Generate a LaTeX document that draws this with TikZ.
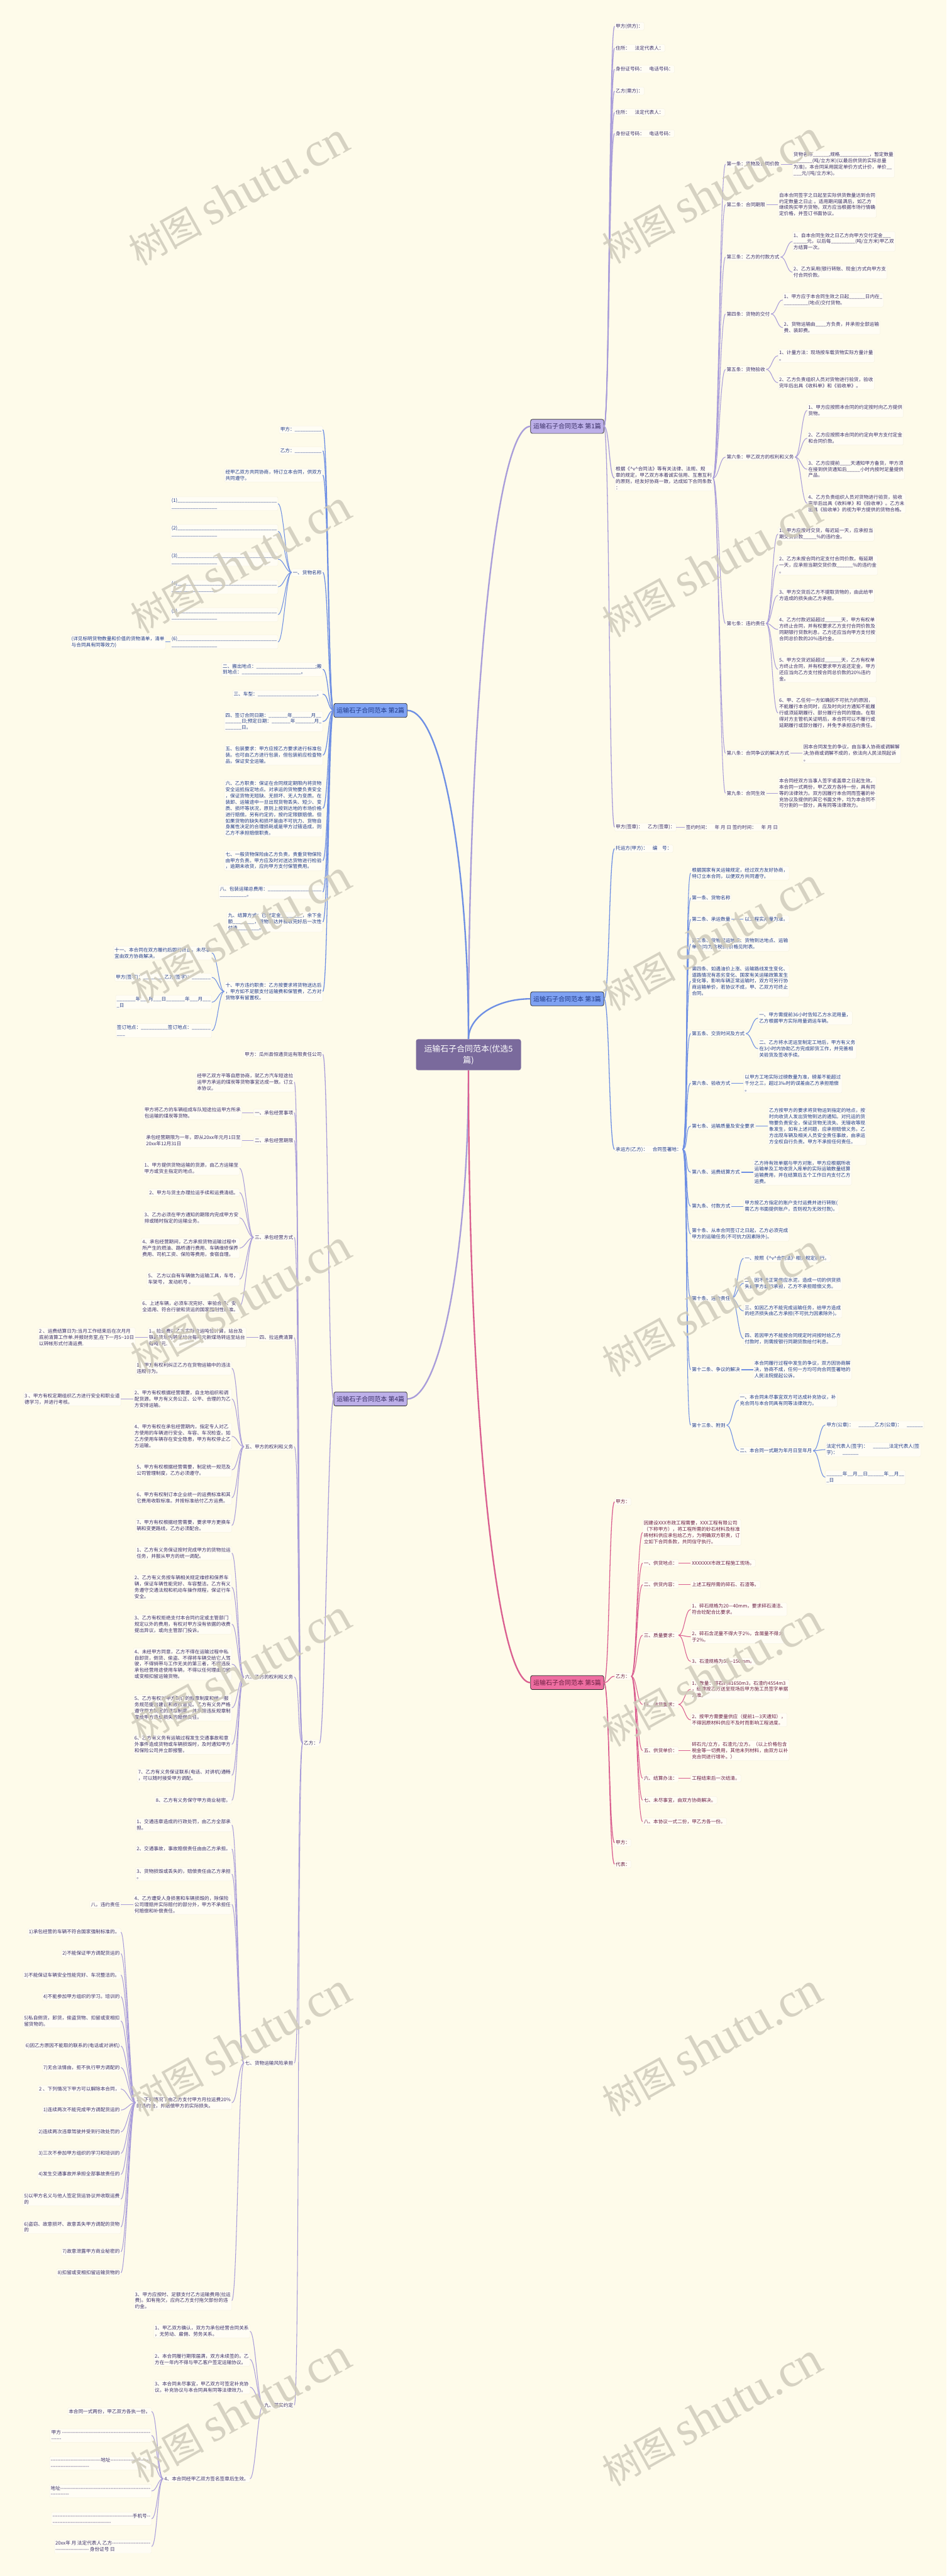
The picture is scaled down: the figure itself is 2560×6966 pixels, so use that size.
\documentclass[tikz,border=0pt]{standalone}
\usepackage{fontspec}
\setmainfont{Noto Sans CJK SC}
\newfontfamily\cjk{Noto Sans CJK SC}
\newfontfamily\wmlat{Liberation Serif}
\usetikzlibrary{calc}
\definecolor{bg}{HTML}{FEFBEA}
\definecolor{leafbg}{HTML}{FFFDF5}
\definecolor{leafbd}{HTML}{F1EDDA}
\definecolor{lnP}{HTML}{A99DDA}
\definecolor{lnB}{HTML}{6E8FE4}
\definecolor{lnK}{HTML}{DA5F90}
\definecolor{fP}{HTML}{BCAFE8}
\definecolor{fB}{HTML}{7EA1F2}
\definecolor{fK}{HTML}{EE6EA1}
\definecolor{fC}{HTML}{7A6A9C}
\definecolor{tP}{HTML}{3A2F66}
\definecolor{tB}{HTML}{203A86}
\definecolor{tK}{HTML}{6A1D40}
\definecolor{wmc}{HTML}{CFCBBB}
\tikzset{
 leaf/.style={font={\cjk\fontsize{13}{16.8}\selectfont}, align=left, inner xsep=3pt, inner ysep=4pt, fill=leafbg, draw=leafbd, line width=0.4pt, rounded corners=3pt},
 lr/.style={leaf, anchor=west},
 ll/.style={leaf, anchor=east},
 bnode/.style={draw=black!85, line width=1.2pt, rounded corners=5pt, font={\cjk\fontsize{17}{20}\selectfont}, minimum width=198pt, minimum height=38pt, inner sep=2pt},
 eP/.style={draw=lnP, line width=1.8pt},
 eB/.style={draw=lnB, line width=1.8pt},
 eK/.style={draw=lnK, line width=1.8pt},
 mainP/.style={draw=lnP, line width=4pt},
 mainB/.style={draw=lnB, line width=4pt},
 mainK/.style={draw=lnK, line width=4pt},
 wm/.style={rotate=29, text=wmc, opacity=0.85, font={\cjk\fontsize{100}{100}\selectfont}}
}
\newcommand\conR[3]{\draw[#1] (#2.east) .. controls ($(#2.east)+(15pt,0pt)$) and ($(#3.west)+(-15pt,0pt)$) .. (#3.west);}
\newcommand\conL[3]{\draw[#1] (#2.west) .. controls ($(#2.west)+(-15pt,0pt)$) and ($(#3.east)+(15pt,0pt)$) .. (#3.east);}
\begin{document}
\catcode`\_=12
\begin{tikzpicture}[x=1pt,y=-1pt]
\useasboundingbox (0,0) rectangle (2560,6966);
\fill[bg] (0,0) rectangle (2560,6966);

% center
\node[fill=fC, text=white, rounded corners=6pt, minimum width=284pt, minimum height=84pt, align=center, font={\cjk\fontsize{22}{30}\selectfont}] (c) at (1267,2852) {运输石子合同范本(优选5\\篇)};

% ===== Branch 1 =====
\begin{scope}[every node/.append style={text=tP}]
\node[bnode, fill=fP] (b1) at (1534,1153) {运输石子合同范本 第1篇};
\node[lr] (p1) at (1662,71) {甲方(供方)：};
\node[lr] (p2) at (1662,130) {住所：　法定代表人：};
\node[lr] (p3) at (1662,187) {身份证号码：　电话号码：};
\node[lr] (p4) at (1662,246) {乙方(需方)：};
\node[lr] (p5) at (1662,304) {住所：　法定代表人：};
\node[lr] (p6) at (1662,361) {身份证号码：　电话号码：};
\node[lr] (p7) at (1662,1293) {根据《\textasciicircum v\textasciicircum 合同法》等有关法律、法规、规\\章的规定，甲乙双方本着诚实信用、互惠互利\\的原则，经友好协商一致，达成如下合同条款\\：};
\node[lr] (p8) at (1662,2237) {甲方(签章)：　乙方(签章)：};
\node[lr] (p8a) at (1852,2237) {签约时间：　年 月 日 签约时间：　年 月 日};

\node[lr] (a1) at (1962,444) {第一条：货物及合同价款};
\node[lr] (a1c) at (2143,444) {货物名称______,规格___________，暂定数量\\_______(吨/立方米)(以最后供货的实际总量\\为准)，本合同采用固定单价方式计价，单价__\\___元/(吨/立方米)。};
\node[lr] (a2) at (1962,553) {第二条：合同期限};
\node[lr] (a2c) at (2104,553) {自本合同签字之日起至实际供货数量达到合同\\约定数量之日止 。适用期间届满后，如乙方\\继续购买甲方货物，双方应当根据市场行情确\\定价格，并签订书面协议。};
\node[lr] (a3) at (1962,695) {第三条：乙方的付款方式};
\node[lr] (a3c1) at (2143,653) {1、自本合同生效之日乙方向甲方交付定金___\\_____元，以后每_________(吨/立方米)甲乙双\\方结算一次。};
\node[lr] (a3c2) at (2143,736) {2、乙方采用(银行转账、现金)方式向甲方支\\付合同价款。};
\node[lr] (a4) at (1962,849) {第四条：货物的交付};
\node[lr] (a4c1) at (2117,811) {1、甲方应于本合同生效之日起______日内在_\\_________(地点)交付货物。};
\node[lr] (a4c2) at (2117,886) {2、货物运输由____方负责，并承担全部运输\\费、装卸费。};
\node[lr] (a5) at (1962,999) {第五条：货物验收};
\node[lr] (a5c1) at (2104,962) {1、计量方法：现场按车载货物实际方量计量\\。};
\node[lr] (a5c2) at (2104,1035) {2、乙方负责组织人员对货物进行验货，验收\\完毕后出具《收料单》和《验收单》。};
\node[lr] (a6) at (1962,1236) {第六条：甲乙双方的权利和义务};
\node[lr] (a6c1) at (2183,1110) {1、甲方应按照本合同的约定按时向乙方提供\\货物。};
\node[lr] (a6c2) at (2183,1185) {2、乙方应按照本合同的约定向甲方支付定金\\和合同价款。};
\node[lr] (a6c3) at (2183,1269) {3、乙方应提前____天通知甲方备货，甲方须\\在接到供货通知后_____小时内按时足量提供\\产品。};
\node[lr] (a6c4) at (2183,1361) {4、乙方负责组织人员对货物进行验货，验收\\完毕后出具《收料单》和《验收单》。乙方未\\出具《验收单》的视为甲方提供的货物合格。};
\node[lr] (a7) at (1962,1686) {第七条：违约责任};
\node[lr] (a7c1) at (2104,1444) {1、甲方应按时交货，每迟延一天，应承担当\\期交货价款_____\%的违约金。};
\node[lr] (a7c2) at (2104,1528) {2、乙方未按合同约定支付合同价款，每延期\\一天，应承担当期交货价款______\%的违约金\\。};
\node[lr] (a7c3) at (2104,1610) {3、甲方交货后乙方不提取货物的，由此给甲\\方造成的损失由乙方承担。};
\node[lr] (a7c4) at (2104,1702) {4、乙方付款迟延超过______天，甲方有权单\\方终止合同，并有权要求乙方支付合同价款及\\同期银行贷款利息，乙方还应当向甲方支付按\\合同总价款的20\%违约金。};
\node[lr] (a7c5) at (2104,1810) {5、甲方交货迟延超过______天，乙方有权单\\方终止合同，并有权要求甲方返还定金，甲方\\还应当向乙方支付按合同总价款的20\%违约\\金。};
\node[lr] (a7c6) at (2104,1928) {6、甲、乙任何一方如确因不可抗力的原因，\\不能履行本合同时，应及时向对方通知不能履\\行或须延期履行、部分履行合同的理由。在取\\得对方主管机关证明后，本合同可以不履行或\\延期履行或部分履行，并免予承担违约责任。};
\node[lr] (a8) at (1962,2037) {第八条：合同争议的解决方式};
\node[lr] (a8c) at (2170,2037) {因本合同发生的争议，由当事人协商或调解解\\决;协商或调解不成的，依法向人民法院起诉\\。};
\node[lr] (a9) at (1962,2145) {第九条：合同生效};
\node[lr] (a9c) at (2104,2145) {本合同经双方当事人签字或盖章之日起生效。\\本合同一式两份，甲乙双方各持一份，具有同\\等的法律效力。双方因履行本合同而签署的补\\充协议及提供的其它书面文件，均为本合同不\\可分割的一部分，具有同等法律效力。};
\end{scope}

% ===== Branch 3 =====
\begin{scope}[every node/.append style={text=tB}]
\node[bnode, fill=fB] (b3) at (1534,2701) {运输石子合同范本 第3篇};
\node[lr] (t1) at (1662,2295) {托运方(甲方)：　编　号：};
\node[lr] (t2) at (1662,3108) {承运方(乙方)：　合同签署地：};
\node[lr] (s0) at (1868,2361) {根据国家有关运输规定，经过双方友好协商，\\特订立本合同，以便双方共同遵守。};
\node[lr] (s1) at (1868,2428) {第一条、货物名称};
\node[lr] (s2) at (1868,2486) {第二条、承运数量};
\node[lr] (s2c) at (2011,2486) {以工程实用量为准。};
\node[lr] (s3) at (1868,2553) {第三条、货物起运地点、货物到达地点、运输\\单价(均为含税价)价格见附表。};
\node[lr] (s4) at (1868,2653) {第四条、如遇油价上涨、运输路线发生变化、\\道路情况有恶劣变化、国家有关运输政策发生\\变化等，影响车辆正常运输时，双方可另行协\\商运输单价，若协议不成，甲、乙双方可终止\\合同。};
\node[lr] (s5) at (1868,2795) {第五条、交货时间及方式};
\node[lr] (s5c1) at (2050,2753) {一、甲方需提前36小时告知乙方水泥用量，\\乙方根据甲方实际用量调运车辆。};
\node[lr] (s5c2) at (2050,2836) {二、乙方将水泥运至制定工地后，甲方有义务\\在3小时内协助乙方完成卸货工作，并完善相\\关验货及签收手续。};
\node[lr] (s6) at (1868,2929) {第六条、验收方式};
\node[lr] (s6c) at (2011,2929) {以甲方工地实际过磅数量为准，磅差不能超过\\千分之三，超过3‰时的误差由乙方承担赔偿\\。};
\node[lr] (s7) at (1868,3045) {第七条、运输质量及安全要求};
\node[lr] (s7c) at (2077,3045) {乙方按甲方的要求将货物运到指定的地点，按\\时向收货人发出货物到达的通知。对托运的货\\物要负责安全，保证货物无流失、无错收等现\\象发生，如有上述问题，应承担赔偿义务。乙\\方出现车辆及相关人员安全责任事故，由承运\\方全权自行负责。甲方不承担任何责任。};
\node[lr] (s8) at (1868,3170) {第八条、运费结算方式};
\node[lr] (s8c) at (2037,3170) {乙方持有效单据与甲方对账，甲方应根据所收\\运输单及工地收货入库单的实际运输数量结算\\运输费用，并在结算后五个工作日内支付乙方\\运费。};
\node[lr] (s9) at (1868,3262) {第九条、付款方式};
\node[lr] (s9c) at (2011,3262) {甲方按乙方指定的账户支付运费并进行转账(\\需乙方书面提供账户，否则视为无效付款)。};
\node[lr] (s10) at (1868,3337) {第十条、从本合同签订之日起，乙方必须完成\\甲方的运输任务(不可抗力因素除外)。};
\node[lr] (s11) at (1868,3511) {第十条、违约责任};
\node[lr] (s11c1) at (2011,3403) {一、按照《\textasciicircum v\textasciicircum 合同法》相关规定执行。};
\node[lr] (s11c2) at (2011,3470) {二、因不能正常供应水泥，造成一切的供货损\\失由甲方自行承担，乙方不承担赔偿义务。};
\node[lr] (s11c3) at (2011,3545) {三、如因乙方不能完成运输任务，给甲方造成\\的经济损失由乙方承担(不可抗力因素除外)。};
\node[lr] (s11c4) at (2011,3620) {四、若因甲方不能按合同规定时间按时给乙方\\付款时，则需按银行同期贷款给付利息。};
\node[lr] (s12) at (1868,3704) {第十二条、争议的解决};
\node[lr] (s12c) at (2037,3704) {本合同履行过程中发生的争议，双方因协商解\\决，协商不成，任何一方均可向合同签署地的\\人民法院提起公诉。};
\node[lr] (s13) at (1868,3854) {第十三条、附则};
\node[lr] (s13a) at (1998,3786) {一、本合同未尽事宜双方可达成补充协议，补\\充合同与本合同具有同等法律效力。};
\node[lr] (s13b) at (1998,3923) {二、本合同一式期为年月日至年月};
\node[lr] (s13b1) at (2232,3853) {甲方(公章)：　______乙方(公章)：　______};
\node[lr] (s13b2) at (2232,3920) {法定代表人(签字)：　______法定代表人(签\\字)：　______};
\node[lr] (s13b3) at (2232,3995) {______年__月__日______年__月__\\_日};
\end{scope}

% ===== Branch 5 =====
\begin{scope}[every node/.append style={text=tK}]
\node[bnode, fill=fK] (b5) at (1534,4550) {运输石子合同范本 第5篇};
\node[lr] (k1) at (1662,4061) {甲方：};
\node[lr] (k2) at (1662,4533) {乙方：};
\node[lr] (k3) at (1662,4983) {甲方：};
\node[lr] (k4) at (1662,5041) {代表：};
\node[lr] (q0) at (1738,4144) {因建设XXX市政工程需要，XXX工程有限公司\\（下称甲方），将工程所需的砂石材料及标准\\砖材料供应承包给乙方，为明确双方职责，订\\立如下合同条款，共同信守执行。};
\node[lr] (q1) at (1738,4227) {一、供货地点：};
\node[lr] (q1c) at (1868,4227) {XXXXXXX市政工程施工现场。};
\node[lr] (q2) at (1738,4285) {二、供货内容：};
\node[lr] (q2c) at (1868,4285) {上述工程所需的碎石、石渣等。};
\node[lr] (q3) at (1738,4422) {三、质量要求：};
\node[lr] (q3c1) at (1868,4352) {1、碎石规格为20—40mm，要求碎石清洁、\\符合砼配合比要求。};
\node[lr] (q3c2) at (1868,4426) {2、碎石含泥量不得大于2\%，含屑量不得大\\于2\%。};
\node[lr] (q3c3) at (1868,4493) {3、石渣规格为50—150mm。};
\node[lr] (q4) at (1738,4609) {四、供货要求：};
\node[lr] (q4c1) at (1868,4568) {1、数量：碎石约81650m3，石渣约4554m3\\，结算按乙方送至现场后甲方施工员签字单据\\为准。};
\node[lr] (q4c2) at (1868,4651) {2、按甲方需要量供应（提前1—3天通知），\\不得因原材料供应不及时而影响工程进度。};
\node[lr] (q5) at (1738,4734) {五、供货单价：};
\node[lr] (q5c) at (1868,4734) {碎石元/立方，石渣元/立方。（以上价格包含\\税金等一切费用，其他未列材料，由双方以补\\充合同进行增补。）};
\node[lr] (q6) at (1738,4809) {六、结算办法：};
\node[lr] (q6c) at (1868,4809) {工程结束后一次结清。};
\node[lr] (q7) at (1738,4868) {七、未尽事宜，由双方协商解决。};
\node[lr] (q8) at (1738,4926) {八、本协议一式二份，甲乙方各一份。};
\end{scope}

% ===== Branch 2 =====
\begin{scope}[every node/.append style={text=tB}]
\node[bnode, fill=fB] (b2) at (1002,1921) {运输石子合同范本 第2篇};
\node[ll] (m1) at (873,1162) {甲方：__________};
\node[ll] (m2) at (873,1219) {乙方：__________};
\node[ll] (m3) at (873,1285) {经甲乙双方共同协商，特订立本合同，供双方\\共同遵守。};
\node[ll] (m4) at (873,1548) {一、货物名称};
\node[ll] (n1) at (752,1362) {(1)_____________________________________\\_________________};
\node[ll] (n2) at (752,1437) {(2)_____________________________________\\_________________};
\node[ll] (n3) at (752,1512) {(3)_____________________________________\\_________________};
\node[ll] (n4) at (752,1587) {(4)_____________________________________\\_________________};
\node[ll] (n5) at (752,1662) {(5)_____________________________________\\_________________};
\node[ll] (n6) at (752,1736) {(6)_____________________________________\\_________________};
\node[ll] (n6d) at (448,1736) {(详见标明货物数量和价值的货物清单，清单\\与合同具有同等效力)};
\node[ll] (m5) at (873,1810) {二、搬出地点：______________________;搬\\到地点：______________________。};
\node[ll] (m6) at (873,1877) {三、车型：______________________。};
\node[ll] (m7) at (873,1951) {四、签订合同日期：_______年_______月__\\______日;预定日期：_______年_______月_\\______日。};
\node[ll] (m8) at (873,2042) {五、包装要求：甲方应按乙方要求进行标准包\\装。也可由乙方进行包装，但包装前应检查物\\品，保证安全运输。};
\node[ll] (m9) at (873,2186) {六、乙方职责：保证在合同规定期限内将货物\\安全运抵指定地点。对承运的货物要负责安全\\，保证货物无短缺、无损坏、无人为变质。在\\装卸、运输途中一旦出现货物丢失、短少、变\\质、损坏等状况，原则上按到达地的市场价格\\进行赔偿。另有约定的，按约定限额赔偿。但\\如果货物的缺失和损坏是由不可抗力、货物自\\身属性决定的合理损耗或是甲方过错造成，则\\乙方不承担赔偿职责。};
\node[ll] (m10) at (873,2327) {七、一般货物保险由乙方负责，贵重货物保险\\由甲方负责。甲方应及时对送达货物进行检验\\，逾期未收货，应向甲方支付保管费用。};
\node[ll] (m11) at (873,2412) {八、包装运输总费用：____________________\\__________。};
\node[ll] (m12) at (873,2493) {九、结算方式：已付定金________，余下金\\额________，货物到达并验收完好后一次性\\付清________。};
\node[ll] (m13) at (873,2681) {十、甲方违约职责：乙方按要求将货物送达后\\，甲方如不足额支付运输费和保管费，乙方对\\货物享有留置权。};
\node[ll] (m13a) at (573,2577) {十一、本合同在双方履约后即行终止。未尽事\\宜由双方协商解决。};
\node[ll] (m13b) at (573,2643) {甲方(签字)：________乙方(签字)：_______};
\node[ll] (m13c) at (573,2710) {_______年___月___日_______年___月___\\_日};
\node[ll] (m13d) at (573,2787) {签订地点：__________签订地点：_______\\___};
\end{scope}

% ===== Branch 4 =====
\begin{scope}[every node/.append style={text=tP}]
\node[bnode, fill=fP] (b4) at (1002,3783) {运输石子合同范本 第4篇};
\node[ll] (r1) at (873,2851) {甲方：瓜州县恒通货运有限责任公司};
\node[ll] (r2) at (864,4714) {乙方：};
\node[ll] (g0) at (796,2926) {经甲乙双方平等自愿协商，就乙方汽车短途拉\\运甲方承运的煤炭等货物事宜达成一致。订立\\本协议。};
\node[ll] (g1) at (796,3009) {一、承包经营事项};
\node[ll] (g1c) at (654,3009) {甲方将乙方的车辆组成车队短途拉运甲方所承\\包运输的煤炭等货物。};
\node[ll] (g2) at (796,3084) {二、承包经营期限};
\node[ll] (g2c) at (654,3084) {承包经营期限为一年，即从20xx年元月1日至\\20xx年12月31日};
\node[ll] (g3) at (796,3346) {三、承包经营方式};
\node[ll] (g3c1) at (648,3159) {1、甲方提供货物运输的货源，由乙方运输至\\甲方或货主指定的地点。};
\node[ll] (g3c2) at (648,3225) {2、甲方与货主办理拉运手续和运费清结。};
\node[ll] (g3c3) at (648,3293) {3、乙方必须在甲方通知的期限内完成甲方安\\排或随时指定的运输业务。};
\node[ll] (g3c4) at (648,3375) {4、承包经营期间，乙方承担货物运输过程中\\所产生的燃油、路桥通行费用、车辆维修保养\\费用、司机工资、保险等费用，食宿自理。};
\node[ll] (g3c5) at (648,3459) {5、 乙方以自有车辆做为运输工具，车号，\\车架号， 发动机号 。};
\node[ll] (g3c6) at (648,3533) {6、上述车辆，必须车况完好、审验合格、安\\全适用、符合行驶和货运的国家强制性标准。};
\node[ll] (g4) at (796,3617) {四、拉运费清算};
\node[ll] (g4c) at (666,3617) {1、拉运费以乙方实际拉运吨位计算，站台及\\铁路货场内转至站台每吨元新煤场转运至站台\\每吨7元.};
\node[ll] (g4cc) at (366,3617) {2 、运费结算日为:当月工作结束后在次月月\\底前清算工作单.并报财务室,在下一月5\textasciitilde 10日\\以转帐形式付清运费.};
\node[ll] (g5) at (796,3912) {五、甲方的权利和义务};
\node[ll] (g5c1) at (627,3700) {1、甲方有权利纠正乙方在货物运输中的违法\\违规行为。};
\node[ll] (g5c2) at (627,3783) {2、甲方有权根据经营需要，自主地组织和调\\配货源。甲方有义务公正、公平、合理的为乙\\方安排运输。};
\node[ll] (g5c2d) at (327,3783) {3 、甲方有权定期组织乙方进行安全和职业道\\德学习，并进行考核。};
\node[ll] (g5c4) at (627,3884) {4、甲方有权在承包经营期内，指定专人对乙\\方使用的车辆进行安全、车容、车况检查。如\\乙方使用车辆存在安全隐患，甲方有权停止乙\\方运输。};
\node[ll] (g5c5) at (627,3975) {5、甲方有权根据经营需要，制定统一规范及\\公司管理制度，乙方必须遵守。};
\node[ll] (g5c6) at (627,4050) {6、甲方有权制订本企业统一的运费标准和其\\它费用收取标准。并按标准给付乙方运费。};
\node[ll] (g5c7) at (627,4125) {7、甲方有权根据经营需要，要求甲方更换车\\辆和变更路线，乙方必须配合。};
\node[ll] (g6) at (796,4535) {六、乙方的权利和义务};
\node[ll] (g6c1) at (627,4200) {1、乙方有义务保证按时完成甲方的货物拉运\\任务，并服从甲方的统一调配。};
\node[ll] (g6c2) at (627,4292) {2、乙方有义务按车辆相关规定维修和保养车\\辆，保证车辆性能完好、车容整洁。乙方有义\\务遵守交通法规和机动车操作规程，保证行车\\安全。};
\node[ll] (g6c3) at (627,4392) {3、乙方有权拒绝支付本合同约定或主管部门\\规定以外的费用，有权对甲方没有依据的收费\\提出异议，或向主管部门投诉。};
\node[ll] (g6c4) at (627,4500) {4、未经甲方同意，乙方不得在运输过程中私\\自卸货，倒货、偷盗、不得将车辆交给它人驾\\驶，不得捎带与工作无关的第三者，不得违反\\承包经营用途使用车辆，不得以任何理由扣留\\或变相扣留运输货物。};
\node[ll] (g6c5) at (627,4618) {5、乙方有权对甲方制订的规章制度和统一服\\务规范提出建议和修改意见。乙方有义务严格\\遵守甲方制定的规章制度，并承担违反规章制\\度给甲方造成损失的赔偿责任。};
\node[ll] (g6c6) at (627,4717) {6、乙方有义务有运输过程发生交通事故和意\\外事件造成货物或车辆损毁时，及时通知甲方\\和保险公司并立即报警。};
\node[ll] (g6c7) at (627,4801) {7、乙方有义务保证联系(电话、对讲机)通畅\\，可以随时接受甲方调配。};
\node[ll] (g6c8) at (627,4868) {8、乙方有义务保守甲方商业秘密。};
\node[ll] (g7) at (796,5579) {七、货物运输风险承担};
\node[ll] (g7c1) at (627,4935) {1、交通违章造成的行政处罚，由乙方全部承\\担。};
\node[ll] (g7c2) at (627,5000) {2、交通事故，事故赔偿责任由由乙方承担。};
\node[ll] (g7c3) at (627,5068) {3、货物损毁或丢失的，赔偿责任由乙方承担\\。};
\node[ll] (g7c4) at (627,5150) {4、乙方遭受人身损害和车辆损毁的，除保险\\公司理赔并实际赔付的部分外，甲方不承担任\\何赔偿和补偿责任。};
\node[ll] (g7c4d) at (327,5150) {八，违约责任};
\node[ll] (g7c5) at (627,5686) {1、下列情况下由乙方支付甲方月拉运费20\%\\的违约金，并赔偿甲方的实际损失。};
\node[ll] (h1) at (327,5225) {1)承包经营的车辆不符合国家强制标准的。};
\node[ll] (h2) at (327,5283) {2)不能保证甲方调配货运的};
\node[ll] (h3) at (327,5341) {3)不能保证车辆安全性能完好、车况整洁的。};
\node[ll] (h4) at (327,5399) {4)不能参加甲方组织的学习。培训的};
\node[ll] (h5) at (327,5465) {5)私自倒货，卸货，偷盗货物、扣留或变相扣\\留货物的。};
\node[ll] (h6) at (327,5533) {6)因乙方原因不能取的联系的(电话或对讲机)};
\node[ll] (h7) at (327,5591) {7)无合法情由，拒不执行甲方调配的};
\node[ll] (h8) at (327,5649) {2 、下列情况下甲方可以解除本合同，};
\node[ll] (h9) at (327,5706) {1)连续两次不能完成甲方调配货运的};
\node[ll] (h10) at (327,5765) {2)连续两次违章驾驶并受到行政处罚的};
\node[ll] (h11) at (327,5823) {3)三次不参加甲方组织的学习和培训的};
\node[ll] (h12) at (327,5880) {4)发生交通事故并承担全部事故责任的};
\node[ll] (h13) at (327,5947) {5)以甲方名义与他人签定货运协议并收取运费\\的};
\node[ll] (h14) at (327,6022) {6)盗窃、故意损坏、故意丢失甲方调配的货物\\的};
\node[ll] (h15) at (327,6089) {7)故意泄露甲方商业秘密的};
\node[ll] (h16) at (327,6146) {8)扣留或变相扣留运输货物的};
\node[ll] (g7c6) at (627,6221) {3、甲方应按时、足额支付乙方运输费用(拉运\\费)。如有拖欠，应向乙方支付拖欠部份的违\\约金。};
\node[ll] (g9) at (796,6504) {九、其实约定};
\node[ll] (g9c1) at (676,6304) {1、甲乙双方确认，双方为承包经营合同关系\\，无劳动、雇佣、劳务关系。};
\node[ll] (g9c2) at (676,6380) {2、本合同履行期限届满，双方未续签的。乙\\方在一年内不得与甲乙客户签定运输协议。};
\node[ll] (g9c3) at (676,6455) {3、本合同未尽事宜，甲乙双方可签定补充协\\议。补充协议与本合同具有同等法律效力。};
\node[ll] (g9c4) at (676,6703) {4、本合同经甲乙双方签名签章后生效。};
\node[ll] (w1) at (410,6521) {本合同一式两份，甲乙双方各执一份。};
\node[ll] (w2) at (410,6586) {甲方 -----------------------------------------------------\\------};
\node[ll] (w3) at (410,6661) {------------------------------地址------------------------\\-----------------------};
\node[ll] (w4) at (410,6736) {地址------------------------------------------------------\\-----------};
\node[ll] (w5) at (410,6811) {------------------------------------------------手机号--\\-----------------------------------};
\node[ll] (w6) at (410,6886) {20xx年 月 法定代表人 乙方-----------------------\\-------------------- 身份证号 日};
\end{scope}

% ===== main connectors =====
\draw[mainP] (c.north) .. controls (1267,1895) and (1342,1153) .. (b1.west);
\draw[mainB] (c.north) .. controls (1267,2319) and (1192,1921) .. (b2.east);
\draw[mainB] (c.north) .. controls (1267,2750) and (1342,2701) .. (b3.west);
\draw[mainP] (c.south) .. controls (1267,3385) and (1192,3783) .. (b4.east);
\draw[mainK] (c.south) .. controls (1267,3808) and (1342,4550) .. (b5.west);

% branch 1 edges
\foreach \n in {p1,p2,p3,p4,p5,p6,p7,p8} {\conR{eP,line width=2.2pt}{b1}{\n}}
\conR{eP}{p8}{p8a}
\foreach \n in {a1,a2,a3,a4,a5,a6,a7,a8,a9} {\conR{eP}{p7}{\n}}
\conR{eP}{a1}{a1c}
\conR{eP}{a2}{a2c}
\foreach \n in {a3c1,a3c2} {\conR{eP}{a3}{\n}}
\foreach \n in {a4c1,a4c2} {\conR{eP}{a4}{\n}}
\foreach \n in {a5c1,a5c2} {\conR{eP}{a5}{\n}}
\foreach \n in {a6c1,a6c2,a6c3,a6c4} {\conR{eP}{a6}{\n}}
\foreach \n in {a7c1,a7c2,a7c3,a7c4,a7c5,a7c6} {\conR{eP}{a7}{\n}}
\conR{eP}{a8}{a8c}
\conR{eP}{a9}{a9c}

% branch 3 edges
\foreach \n in {t1,t2} {\conR{eB,line width=2.2pt}{b3}{\n}}
\foreach \n in {s0,s1,s2,s3,s4,s5,s6,s7,s8,s9,s10,s11,s12,s13} {\conR{eB}{t2}{\n}}
\conR{eB}{s2}{s2c}
\foreach \n in {s5c1,s5c2} {\conR{eB}{s5}{\n}}
\conR{eB}{s6}{s6c}
\conR{eB}{s7}{s7c}
\conR{eB}{s8}{s8c}
\conR{eB}{s9}{s9c}
\foreach \n in {s11c1,s11c2,s11c3,s11c4} {\conR{eB}{s11}{\n}}
\conR{eB}{s12}{s12c}
\foreach \n in {s13a,s13b} {\conR{eB}{s13}{\n}}
\foreach \n in {s13b1,s13b2,s13b3} {\conR{eB}{s13b}{\n}}

% branch 5 edges
\foreach \n in {k1,k2,k3,k4} {\conR{eK,line width=2.2pt}{b5}{\n}}
\foreach \n in {q0,q1,q2,q3,q4,q5,q6,q7,q8} {\conR{eK}{k2}{\n}}
\conR{eK}{q1}{q1c}
\conR{eK}{q2}{q2c}
\foreach \n in {q3c1,q3c2,q3c3} {\conR{eK}{q3}{\n}}
\foreach \n in {q4c1,q4c2} {\conR{eK}{q4}{\n}}
\conR{eK}{q5}{q5c}
\conR{eK}{q6}{q6c}

% branch 2 edges
\foreach \n in {m1,m2,m3,m4,m5,m6,m7,m8,m9,m10,m11,m12,m13} {\conL{eB,line width=2.2pt}{b2}{\n}}
\foreach \n in {n1,n2,n3,n4,n5,n6} {\conL{eB}{m4}{\n}}
\conL{eB}{n6}{n6d}
\foreach \n in {m13a,m13b,m13c,m13d} {\conL{eB}{m13}{\n}}

% branch 4 edges
\foreach \n in {r1,r2} {\conL{eP,line width=2.2pt}{b4}{\n}}
\foreach \n in {g0,g1,g2,g3,g4,g5,g6,g7,g9} {\conL{eP}{r2}{\n}}
\conL{eP}{g1}{g1c}
\conL{eP}{g2}{g2c}
\foreach \n in {g3c1,g3c2,g3c3,g3c4,g3c5,g3c6} {\conL{eP}{g3}{\n}}
\conL{eP}{g4}{g4c}
\conL{eP}{g4c}{g4cc}
\foreach \n in {g5c1,g5c2,g5c4,g5c5,g5c6,g5c7} {\conL{eP}{g5}{\n}}
\conL{eP}{g5c2}{g5c2d}
\foreach \n in {g6c1,g6c2,g6c3,g6c4,g6c5,g6c6,g6c7,g6c8} {\conL{eP}{g6}{\n}}
\foreach \n in {g7c1,g7c2,g7c3,g7c4,g7c5,g7c6} {\conL{eP}{g7}{\n}}
\conL{eP}{g7c4}{g7c4d}
\foreach \n in {h1,h2,h3,h4,h5,h6,h7,h8,h9,h10,h11,h12,h13,h14,h15,h16} {\conL{eP}{g7c5}{\n}}
\foreach \n in {g9c1,g9c2,g9c3,g9c4} {\conL{eP}{g9}{\n}}
\foreach \n in {w1,w2,w3,w4,w5,w6} {\conL{eP}{g9c4}{\n}}

% watermark
\foreach \x/\y in {645/525,1925/520,650/1520,1925/1530,650/2520,1925/2540,650/3520,1925/3530,650/4520,1925/4530,650/5530,1925/5530,650/6520,1925/6530}
  {\node[wm] at (\x,\y) {树图 {\wmlat\fontsize{130}{130}\selectfont shutu.cn}};}
\end{tikzpicture}
\end{document}
